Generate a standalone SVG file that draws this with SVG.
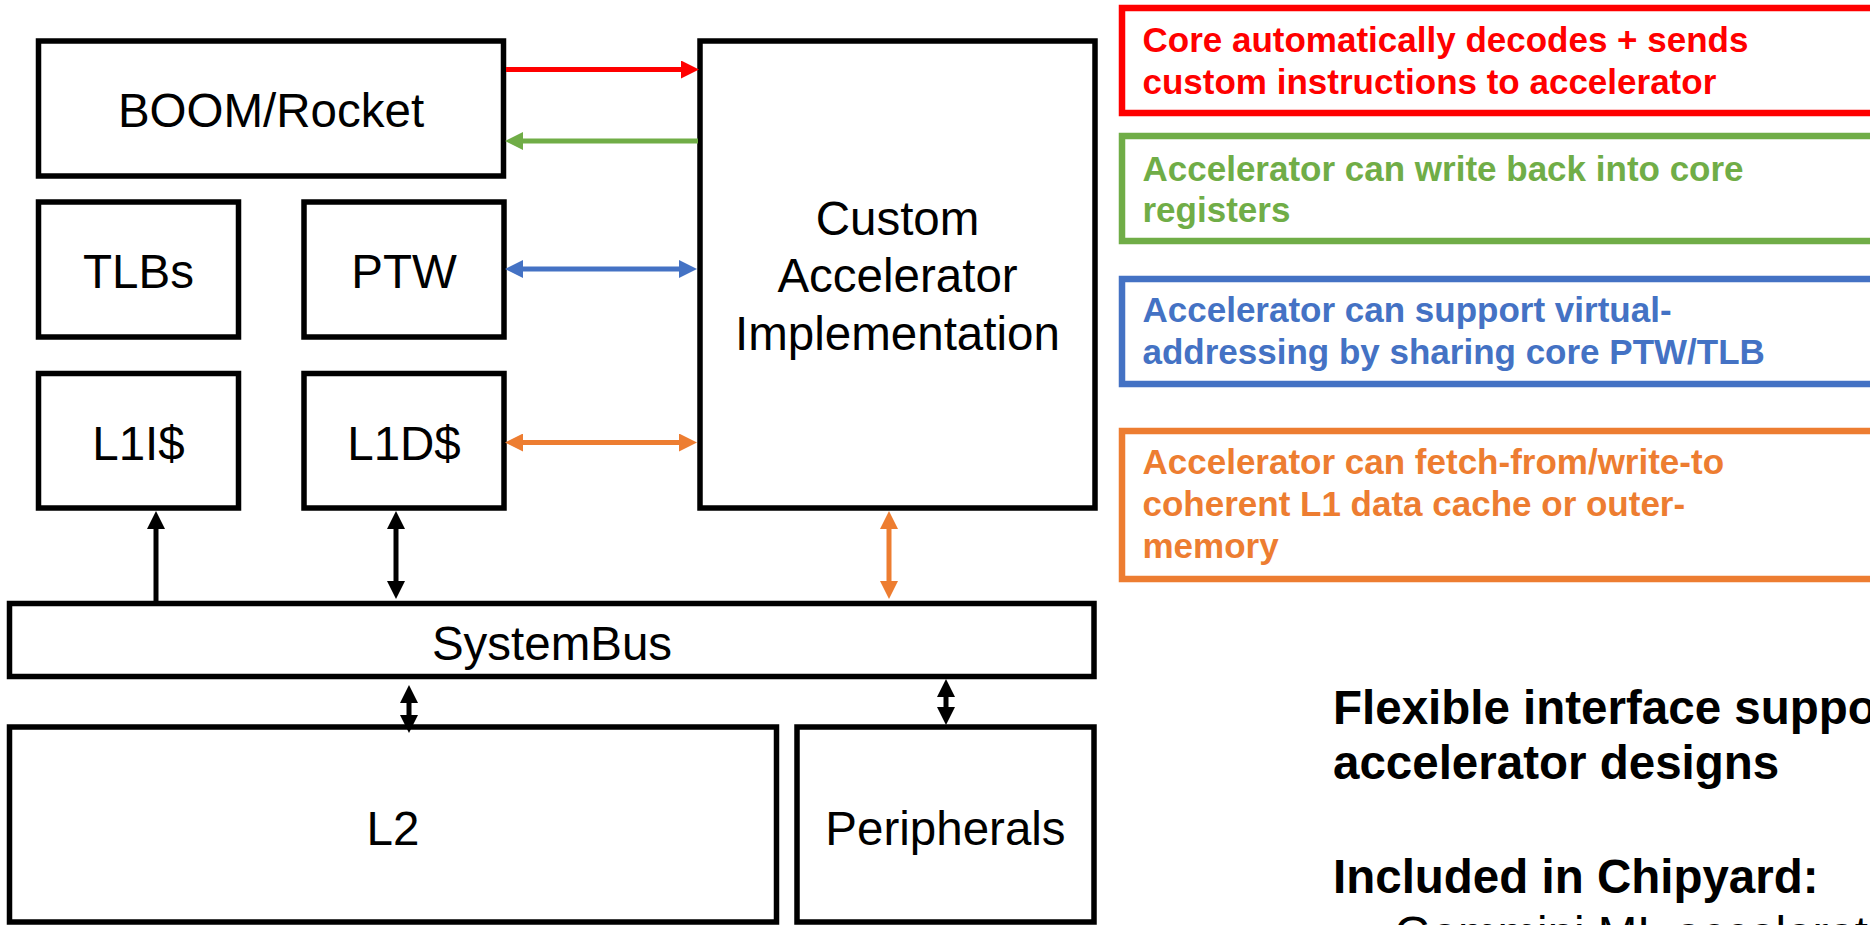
<svg xmlns="http://www.w3.org/2000/svg" width="1870" height="925" viewBox="0 0 1870 925">
<style>
.box{fill:#fff;stroke:#000;stroke-width:5.5}
.lbl{font-family:"Liberation Sans",Arial,sans-serif;font-size:47.5px;fill:#000;text-anchor:middle}
.note{font-family:"Liberation Sans",Arial,sans-serif;font-size:35px;font-weight:bold}
.big{font-family:"Liberation Sans",Arial,sans-serif;font-size:47.5px;font-weight:bold;fill:#000}
.sub{font-family:"Liberation Sans",Arial,sans-serif;font-size:47.5px;fill:#000}
.cbox{fill:#fff;stroke-width:6.5}
.c{fill:none;stroke-width:5}
</style>
<defs>
<marker id="ar" markerUnits="userSpaceOnUse" markerWidth="18" markerHeight="18" viewBox="0 0 18 18" refX="2" refY="9" orient="auto-start-reverse"><path d="M0,0 L18,9 L0,18 z" fill="#FF0000"/></marker>
<marker id="ag" markerUnits="userSpaceOnUse" markerWidth="18" markerHeight="18" viewBox="0 0 18 18" refX="2" refY="9" orient="auto-start-reverse"><path d="M0,0 L18,9 L0,18 z" fill="#70AD47"/></marker>
<marker id="ab" markerUnits="userSpaceOnUse" markerWidth="18" markerHeight="18" viewBox="0 0 18 18" refX="2" refY="9" orient="auto-start-reverse"><path d="M0,0 L18,9 L0,18 z" fill="#4472C4"/></marker>
<marker id="ao" markerUnits="userSpaceOnUse" markerWidth="18" markerHeight="18" viewBox="0 0 18 18" refX="2" refY="9" orient="auto-start-reverse"><path d="M0,0 L18,9 L0,18 z" fill="#ED7D31"/></marker>
<marker id="ak" markerUnits="userSpaceOnUse" markerWidth="18" markerHeight="18" viewBox="0 0 18 18" refX="2" refY="9" orient="auto-start-reverse"><path d="M0,0 L18,9 L0,18 z" fill="#000"/></marker>
</defs>
<rect width="1870" height="925" fill="#fff"/>

<g id="boom"><rect class="box" x="38.5" y="41" width="465" height="135"/><text class="lbl" x="271" y="127">BOOM/Rocket</text></g>
<g id="tlbs"><rect class="box" x="38.5" y="202" width="200" height="135"/><text class="lbl" x="138.5" y="288">TLBs</text></g>
<g id="ptw"><rect class="box" x="304" y="202" width="200" height="135"/><text class="lbl" x="404" y="288">PTW</text></g>
<g id="l1i"><rect class="box" x="38.5" y="373.5" width="200" height="134.5"/><text class="lbl" x="138.5" y="460">L1I$</text></g>
<g id="l1d"><rect class="box" x="304" y="373.5" width="200" height="134.5"/><text class="lbl" x="404" y="460">L1D$</text></g>
<g id="accel"><rect class="box" x="700" y="41" width="395" height="467"/><text class="lbl" x="897.5" y="235">Custom</text><text class="lbl" x="897.5" y="292">Accelerator</text><text class="lbl" x="897.5" y="350">Implementation</text></g>
<g id="sysbus"><rect class="box" x="9.5" y="603.5" width="1084.5" height="73"/><text class="lbl" x="552" y="660">SystemBus</text></g>
<g id="l2"><rect class="box" x="9.5" y="727" width="767" height="195"/><text class="lbl" x="393" y="845">L2</text></g>
<g id="periph"><rect class="box" x="797" y="727" width="297" height="195"/><text class="lbl" x="945.5" y="845">Peripherals</text></g>

<g id="connectors">
<line class="c" x1="506" y1="69.5" x2="683" y2="69.5" stroke="#FF0000" marker-end="url(#ar)"/>
<line class="c" x1="698" y1="141" x2="521" y2="141" stroke="#70AD47" marker-end="url(#ag)"/>
<line class="c" x1="521" y1="269" x2="681" y2="269" stroke="#4472C4" marker-start="url(#ab)" marker-end="url(#ab)"/>
<line class="c" x1="521" y1="442.5" x2="681" y2="442.5" stroke="#ED7D31" marker-start="url(#ao)" marker-end="url(#ao)"/>
<line class="c" x1="889" y1="527" x2="889" y2="583" stroke="#ED7D31" marker-start="url(#ao)" marker-end="url(#ao)"/>
<line class="c" x1="156" y1="601" x2="156" y2="527" stroke="#000" marker-end="url(#ak)"/>
<line class="c" x1="396" y1="527" x2="396" y2="583" stroke="#000" marker-start="url(#ak)" marker-end="url(#ak)"/>
<line class="c" x1="409" y1="701" x2="409" y2="717" stroke="#000" marker-start="url(#ak)" marker-end="url(#ak)"/>
<line class="c" x1="946" y1="695" x2="946" y2="709" stroke="#000" marker-start="url(#ak)" marker-end="url(#ak)"/>
</g>

<g id="note-red"><rect class="cbox" x="1122" y="8" width="760" height="105" stroke="#FF0000"/><text class="note" fill="#FF0000"><tspan x="1142.5" y="52">Core automatically decodes + sends</tspan><tspan x="1142.5" y="94">custom instructions to accelerator</tspan></text></g>
<g id="note-green"><rect class="cbox" x="1122" y="136" width="760" height="105" stroke="#70AD47"/><text class="note" fill="#70AD47"><tspan x="1142.5" y="181">Accelerator can write back into core</tspan><tspan x="1142.5" y="222">registers</tspan></text></g>
<g id="note-blue"><rect class="cbox" x="1122" y="279" width="760" height="105" stroke="#4472C4"/><text class="note" fill="#4472C4"><tspan x="1142.5" y="322">Accelerator can support virtual-</tspan><tspan x="1142.5" y="364">addressing by sharing core PTW/TLB</tspan></text></g>
<g id="note-orange"><rect class="cbox" x="1122" y="431" width="760" height="148" stroke="#ED7D31"/><text class="note" fill="#ED7D31"><tspan x="1142.5" y="474">Accelerator can fetch-from/write-to</tspan><tspan x="1142.5" y="516">coherent L1 data cache or outer-</tspan><tspan x="1142.5" y="558">memory</tspan></text></g>

<g id="summary"><text class="big"><tspan x="1333" y="724">Flexible interface suppo</tspan><tspan x="1333" y="779">accelerator designs</tspan><tspan x="1333" y="893">Included in Chipyard:</tspan></text><text class="sub" x="1355" y="950">– Gemmini ML accelerator</text></g>
</svg>
